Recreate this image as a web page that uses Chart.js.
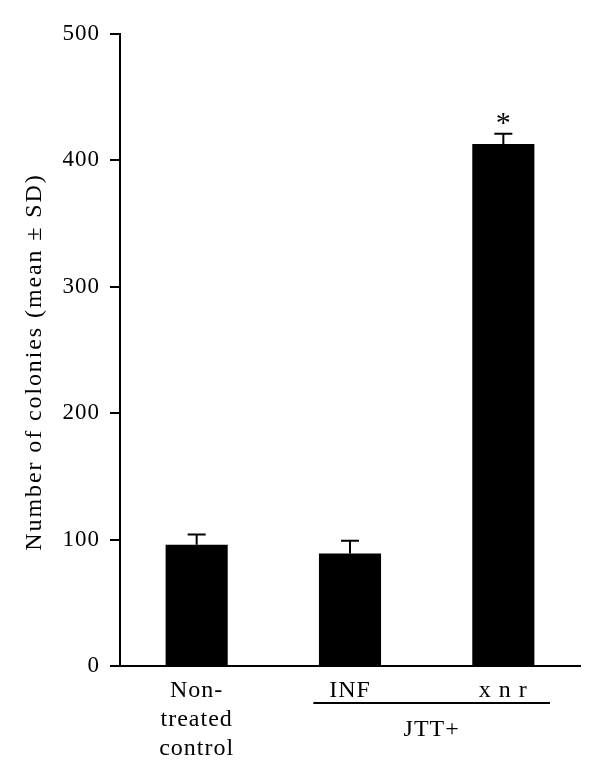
<!DOCTYPE html>
<html>
<head>
<meta charset="utf-8">
<script src="https://cdn.jsdelivr.net/npm/chart.js@4/dist/chart.umd.min.js"></script>
<style>
  html, body { margin: 0; padding: 0; background: #fff; }
  #wrap { width: 600px; height: 782px; }
</style>
</head>
<body>
<div id="wrap"><canvas id="chart" width="600" height="782"></canvas></div>
<script>
'use strict';

var categories = [['Non-', 'treated', 'control'], 'INF', 'x n r'];
var means = [96, 89, 413];
var sdUpper = [8, 10, 8];
var marks = ['', '', '*'];
var yTicks = [0, 100, 200, 300, 400, 500];
var yTitle = 'Number of colonies (mean ± SD)';
var groupLabel = 'JTT+';
var groupRange = [1, 2];

var FONT = '"Liberation Serif", "DejaVu Serif", serif';

// the reference type is set a little wider than Times, so space the letters out
var spacing = {
  id: 'spacing',
  beforeDraw: function(chart) { chart.ctx.letterSpacing = '1px'; },
  afterDraw: function(chart) { chart.ctx.letterSpacing = '0px'; }
};

// upward-only error bars + significance star
var errorBars = {
  id: 'errorBars',
  afterDatasetsDraw: function(chart) {
    var ctx = chart.ctx;
    var x = chart.scales.x, y = chart.scales.y;
    ctx.save();
    ctx.strokeStyle = '#000';
    ctx.lineWidth = 2;
    means.forEach(function(m, i) {
      var cx = x.getPixelForValue(i);
      var y0 = y.getPixelForValue(m);
      var y1 = y.getPixelForValue(m + sdUpper[i]);
      ctx.beginPath();
      ctx.moveTo(cx, y0);
      ctx.lineTo(cx, y1);
      ctx.moveTo(cx - 9, y1);
      ctx.lineTo(cx + 9, y1);
      ctx.stroke();
      if (marks[i]) {
        ctx.fillStyle = '#000';
        ctx.letterSpacing = '0px';
        ctx.font = '30px ' + FONT;
        ctx.textAlign = 'center';
        ctx.textBaseline = 'alphabetic';
        ctx.fillText(marks[i], cx, y1 - 2);
      }
    });
    ctx.restore();
  }
};

// y title, bracket line and label under grouped categories
var extras = {
  id: 'extras',
  afterDraw: function(chart) {
    var ctx = chart.ctx;
    var x = chart.scales.x;
    var area = chart.chartArea;
    var half = (x.getPixelForValue(1) - x.getPixelForValue(0)) / 2;
    var xa = x.getPixelForValue(groupRange[0]) - half + 40;
    var xb = x.getPixelForValue(groupRange[1]) + half - 30;
    var ly = area.bottom + 37;
    ctx.save();
    ctx.strokeStyle = '#000';
    ctx.lineWidth = 2;
    ctx.beginPath();
    ctx.moveTo(xa, ly);
    ctx.lineTo(xb, ly);
    ctx.stroke();
    ctx.fillStyle = '#000';
    ctx.font = '24px ' + FONT;
    ctx.letterSpacing = '1px';
    ctx.textAlign = 'center';
    ctx.textBaseline = 'alphabetic';
    ctx.fillText(groupLabel, (xa + xb) / 2, ly + 33);

    ctx.translate(41, (area.top + area.bottom) / 2 + 12);
    ctx.rotate(-Math.PI / 2);
    ctx.font = '24px ' + FONT;
    ctx.letterSpacing = '1.9px';
    ctx.fillText(yTitle, 0, 0);
    ctx.restore();
  }
};

new Chart(document.getElementById('chart'), {
  type: 'bar',
  data: {
    labels: categories,
    datasets: [{
      data: means,
      backgroundColor: '#000',
      borderWidth: 0,
      barPercentage: 0.405,
      categoryPercentage: 1
    }]
  },
  options: {
    responsive: false,
    animation: false,
    layout: { padding: { top: 34, right: 20, left: 0, bottom: 0 } },
    plugins: { legend: { display: false }, tooltip: { enabled: false } },
    scales: {
      x: {
        grid: { display: false },
        border: { color: '#000', width: 2 },
        ticks: {
          color: '#000',
          padding: 2,
          maxRotation: 0,
          font: { family: FONT, size: 24, lineHeight: 1.21 }
        },
        afterFit: function(s) { s.height = 116; }
      },
      y: {
        min: 0,
        max: 500,
        afterBuildTicks: function(s) { s.ticks = yTicks.map(function(v) { return { value: v }; }); },
        grid: { drawOnChartArea: false, tickLength: 10, color: '#000', lineWidth: 2 },
        border: { color: '#000', width: 2 },
        ticks: {
          color: '#000',
          padding: 10,
          font: { family: FONT, size: 23 }
        },
        afterFit: function(s) { s.width = 120; }
      }
    }
  },
  plugins: [spacing, errorBars, extras]
});
</script>
</body>
</html>
